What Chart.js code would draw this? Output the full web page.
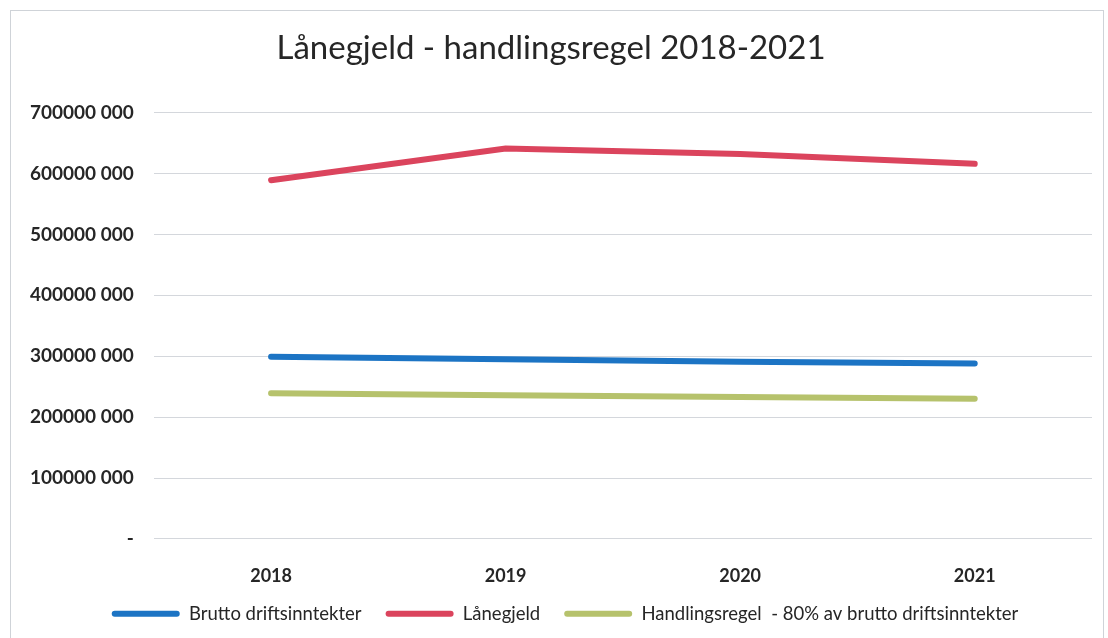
<!DOCTYPE html>
<html>
<head>
<meta charset="utf-8">
<script src="https://cdn.jsdelivr.net/npm/chart.js@4.4.1/dist/chart.umd.min.js"></script>
<style>
  html, body { margin: 0; padding: 0; background: #fff; }
  #wrap { position: absolute; left: 10px; top: 10px; width: 1094px; height: 640px; border: 1px solid #cfd3d8; box-sizing: border-box; }
  #box { position: absolute; left: 0; top: 0; width: 1108px; height: 638px; }
</style>
</head>
<body>
<div id="wrap"></div>
<div id="box"><canvas id="c"></canvas></div>
<script>
const categories = ['2018', '2019', '2020', '2021'];
const bruttoDriftsinntekter = [299000000, 295000000, 291000000, 288000000];
const lanegjeld = [589000000, 641000000, 632000000, 616000000];
const handlingsregel = [239000000, 236000000, 233000000, 230000000];
const seriesNames = ['Brutto driftsinntekter', 'Lånegjeld', 'Handlingsregel  - 80% av brutto driftsinntekter'];
const chartTitle = 'Lånegjeld - handlingsregel 2018-2021';

const colors = ['#1c74c4', '#db445d', '#b6c26c'];
const FONT = 'Lato, "Open Sans", sans-serif';

// legend layout tweak: shrink reserved height, then shift drawing
const LEGEND_SHRINK = 26, LEGEND_UP = 24, LEGEND_RIGHT = 14;
const LegendEl = Chart.Legend && Chart.Legend._element;
if (LegendEl) {
  const origFit = LegendEl.prototype.fit;
  LegendEl.prototype.fit = function () {
    origFit.call(this);
    if (this.isHorizontal && this.isHorizontal()) this.height = Math.max(0, this.height - LEGEND_SHRINK);
  };
}
const legendShift = {
  id: 'legendShift',
  afterLayout(chart) {
    const l = chart.legend;
    if (!l || !LegendEl) return;
    l.top -= LEGEND_UP;
    l.bottom = chart.height;
    l.height = l.bottom - l.top;
    l.left += LEGEND_RIGHT; l.right = Math.min(chart.width, l.right + LEGEND_RIGHT);
    l.width = l.right - l.left;
  }
};

function fmt(v) {
  if (v === 0) return '-';
  const th = Math.floor(v / 1000);
  const rest = String(v % 1000).padStart(3, '0');
  return th + ' ' + rest;
}

new Chart(document.getElementById('c'), {
  type: 'line',
  data: {
    labels: categories,
    datasets: [
      { label: seriesNames[0], data: bruttoDriftsinntekter, borderColor: colors[0], backgroundColor: colors[0] },
      { label: seriesNames[1], data: lanegjeld, borderColor: colors[1], backgroundColor: colors[1] },
      { label: seriesNames[2], data: handlingsregel, borderColor: colors[2], backgroundColor: colors[2] }
    ]
  },
  plugins: [legendShift],
  options: {
    responsive: true,
    maintainAspectRatio: false,
    animation: false,
    layout: { padding: { left: 10, right: 16, top: 29, bottom: 7 } },
    elements: {
      line: { borderWidth: 6, tension: 0, borderCapStyle: 'round' },
      point: { radius: 0, hoverRadius: 0 }
    },
    plugins: {
      title: {
        display: true, text: chartTitle, color: '#262626',
        font: { family: FONT, size: 33, weight: 'normal' },
        padding: { top: 0, bottom: 44 }
      },
      legend: {
        position: 'bottom',
        labels: {
          color: '#262626',
          font: { family: FONT, size: 18.5, weight: 'normal' },
          boxWidth: 68, boxHeight: 6, padding: 24,
          useBorderRadius: true, borderRadius: 3,
          generateLabels: (chart) => {
            const items = Chart.defaults.plugins.legend.labels.generateLabels(chart);
            items.forEach(it => { it.lineWidth = 0; });
            return items;
          }
        }
      },
      tooltip: { enabled: false }
    },
    scales: {
      x: {
        offset: true,
        grid: { display: false },
        border: { display: false },
        ticks: { color: '#262626', font: { family: FONT, size: 18, weight: 'bold' }, padding: 18 }
      },
      y: {
        min: 0, max: 700000000,
        grid: { color: '#d4d7dc', lineWidth: 1, drawTicks: false },
        border: { display: false },
        ticks: {
          stepSize: 100000000, color: '#262626', padding: 20,
          font: { family: FONT, size: 19, weight: 'bold' },
          callback: (v) => fmt(v)
        }
      }
    }
  }
});
</script>
</body>
</html>
